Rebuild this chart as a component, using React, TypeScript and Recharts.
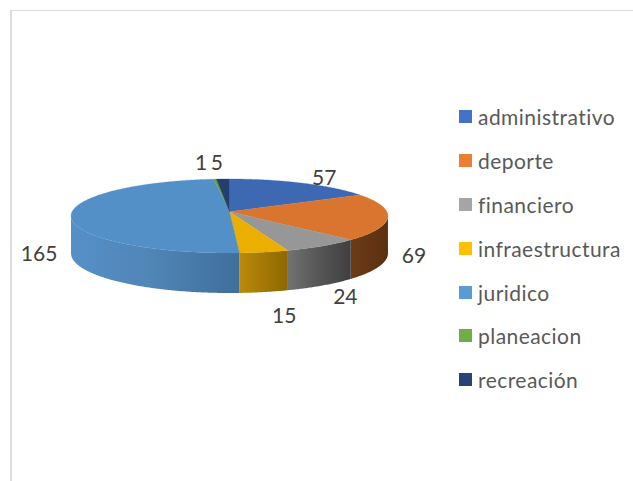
import React from 'react';
import { PieChart, Pie, Cell, Legend } from 'recharts';

const categories = ['administrativo', 'deporte', 'financiero', 'infraestructura', 'juridico', 'planeacion', 'recreación'];
const values = [57, 69, 24, 15, 165, 1, 5];

const legendColors = ['#4472C4', '#ED7D31', '#A5A5A5', '#FFC000', '#5B9BD5', '#70AD47', '#264478'];
const topColors = ['#3D69B3', '#D9752E', '#979797', '#EBAF00', '#5490C8', '#67A03F', '#223F6E'];
const wallLeft = ['#37588F', '#6E3C15', '#727272', '#BC8A0A', '#5590C8', '#5C8A38', '#1C3358'];
const wallMid = ['#37588F', '#653614', '#585858', '#A67A05', '#5186B8', '#5C8A38', '#1C3358'];
const wallRight = ['#2F4D7E', '#5A3010', '#3F3F3F', '#8D6800', '#3F6F9A', '#4E7A30', '#172B4B'];

// label nudges from the rim of each slice, in px
const labelDx = [22, 26, 23, 20, -32, -14, -6];
const labelDy = [-7, 38, 50, 62, 38, -18, -18];

const tableData = categories.map((name, i) => ({ name, value: values[i] }));

const RADIUS = 157.4;
const SQUASH = 0.232;
const PERSPECTIVE = 0.116;

const project = (cx: number, cy: number, angle: number) => {
  const a = (angle * Math.PI) / 180;
  const u = Math.cos(a);
  const v = -Math.sin(a);
  const w = 1 - PERSPECTIVE * v;
  return { x: cx + (RADIUS * u) / w, y: cy + (RADIUS * SQUASH * v) / w, v };
};

const sampleAngles = (start: number, end: number) => {
  const out: number[] = [];
  const steps = Math.max(2, Math.ceil(Math.abs(end - start) * 2));
  for (let i = 0; i <= steps; i++) out.push(start + ((end - start) * i) / steps);
  return out;
};

const TopFace = (props: any) => {
  const { cx, cy, startAngle, endAngle, index } = props;
  const pts = sampleAngles(startAngle, endAngle).map(a => project(cx, cy, a));
  const d = `M${cx},${cy} ` + pts.map(p => `L${p.x},${p.y}`).join(' ') + ' Z';
  return <path d={d} fill={topColors[index]} stroke={topColors[index]} strokeWidth={0.3} />;
};

const SideWall = (props: any) => {
  const { cx, cy, startAngle, endAngle, index } = props;
  const pts = sampleAngles(startAngle, endAngle)
    .map(a => project(cx, cy, a))
    .filter(p => p.v >= PERSPECTIVE);
  if (pts.length < 2) return null;
  const depth = (v: number) => 37 + 3 * v;
  const upper = pts.map(p => `${p.x},${p.y}`);
  const lower = [...pts].reverse().map(p => `${p.x},${p.y + depth(p.v)}`);
  const d = 'M' + upper.concat(lower).join(' L') + ' Z';
  return <path d={d} fill={`url(#wall${index})`} />;
};

const renderLabel = (props: any) => {
  const { cx, cy, midAngle, index, value } = props;
  const p = project(cx, cy, midAngle);
  return (
    <text
      x={p.x + labelDx[index]}
      y={p.y + labelDy[index]}
      fill="#404040"
      fontSize={21}
      fontFamily="Lato"
      textAnchor="middle"
      dominantBaseline="central"
    >
      {value}
    </text>
  );
};

const LegendList = () => (
  <div>
    {categories.map((name, i) => (
      <div key={name} style={{ display: 'flex', alignItems: 'center', height: 43.8 }}>
        <span style={{ width: 13, height: 13, background: legendColors[i], marginRight: 6, flex: 'none' }} />
        <span style={{ fontFamily: 'Lato', fontSize: 21, color: '#595959', letterSpacing: 0.45, whiteSpace: 'nowrap' }}>{name}</span>
      </div>
    ))}
  </div>
);

export default function App() {
  return (
    <div style={{ position: 'absolute', left: 0, top: 0, width: 633, height: 481, background: '#fff', overflow: 'hidden' }}>
      <div style={{ position: 'absolute', left: 10, top: 10, right: 0, bottom: 0, borderTop: '1px solid #dcdcdc', borderLeft: '2px solid #dcdcdc' }} />
      <PieChart width={633} height={481} margin={{ top: 0, right: 0, bottom: 0, left: 0 }} style={{ position: 'absolute', left: 0, top: 0 }}>
        <defs>
          {categories.map((name, i) => (
            <linearGradient key={name} id={`wall${i}`} x1="0" y1="0" x2="1" y2="0">
              <stop offset="0%" stopColor={wallLeft[i]} />
              <stop offset="45%" stopColor={wallMid[i]} />
              <stop offset="100%" stopColor={wallRight[i]} />
            </linearGradient>
          ))}
        </defs>
        <Pie
          data={tableData}
          dataKey="value"
          nameKey="name"
          cx={229.5}
          cy={211.7}
          outerRadius={RADIUS}
          startAngle={90}
          endAngle={-270}
          stroke="none"
          legendType="none"
          shape={SideWall}
          isAnimationActive={false}
        >
          {categories.map(name => <Cell key={name} fill="#000" />)}
        </Pie>
        <Pie
          data={tableData}
          dataKey="value"
          nameKey="name"
          cx={229.5}
          cy={211.7}
          outerRadius={RADIUS}
          startAngle={90}
          endAngle={-270}
          stroke="none"
          shape={TopFace}
          label={renderLabel}
          labelLine={false}
          isAnimationActive={false}
        >
          {categories.map((name, i) => <Cell key={name} fill={legendColors[i]} />)}
        </Pie>
        <Legend
          layout="vertical"
          content={<LegendList />}
          wrapperStyle={{ position: 'absolute', left: 459, top: 95, width: 174, bottom: 'auto' }}
        />
      </PieChart>
    </div>
  );
}
